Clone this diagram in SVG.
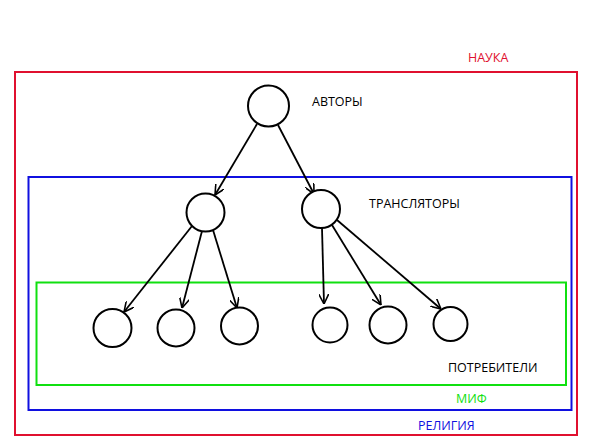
<svg xmlns="http://www.w3.org/2000/svg" width="591" height="444" viewBox="0 0 591 444">
<style>
.frame{fill:none;stroke-width:2}
.node{fill:#fff;stroke:#000;stroke-width:2}
.lbl{font-family:"Open Sans","Liberation Sans",sans-serif;font-size:12.5px}
.edge{stroke:#000;stroke-width:1.8;fill:none;marker-end:url(#arr)}
</style>
<defs>
<marker id="arr" viewBox="0 0 10 10" refX="10" refY="5" markerWidth="5.5" markerHeight="5.5" orient="auto" markerUnits="strokeWidth">
<path d="M0,0 L10,5 L0,10" fill="none" stroke="#000" stroke-width="1.6"/>
</marker>
</defs>
<rect width="591" height="444" fill="#fff"/>
<g id="nauka">
<rect class="frame" x="15" y="72" width="562" height="363" stroke="#e0102f"/>
<text class="lbl" x="468" y="62" fill="#e0102f">НАУКА</text>
</g>
<g id="religiya">
<rect class="frame" x="28.5" y="177" width="543" height="233" stroke="#1010e0"/>
<text class="lbl" x="418" y="430" fill="#1010e0">РЕЛИГИЯ</text>
</g>
<g id="mif">
<rect class="frame" x="36.5" y="282.5" width="529.5" height="102.5" stroke="#10e010"/>
<text class="lbl" x="456" y="403" fill="#10e010">МИФ</text>
</g>
<g id="connectors">
<line class="edge" x1="257" y1="124" x2="215" y2="195"/>
<line class="edge" x1="278" y1="125" x2="314" y2="194"/>
<line class="edge" x1="192" y1="226" x2="124" y2="312"/>
<line class="edge" x1="202" y1="231" x2="182" y2="308"/>
<line class="edge" x1="213" y1="230" x2="237" y2="308"/>
<line class="edge" x1="322" y1="228" x2="324" y2="304"/>
<line class="edge" x1="332" y1="225" x2="381" y2="305"/>
<line class="edge" x1="337" y1="220" x2="441" y2="309"/>
</g>
<g id="avtory">
<circle class="node" cx="268.5" cy="106" r="20.5"/>
<text class="lbl" x="312" y="106">АВТОРЫ</text>
</g>
<g id="translyator1"><circle class="node" cx="205.5" cy="212.5" r="19"/></g>
<g id="translyator2">
<circle class="node" cx="321" cy="209" r="19"/>
<text class="lbl" x="369" y="208">ТРАНСЛЯТОРЫ</text>
</g>
<g id="potr1"><circle class="node" cx="112.5" cy="328" r="19"/></g>
<g id="potr2"><circle class="node" cx="176" cy="328" r="18.5"/></g>
<g id="potr3"><circle class="node" cx="239.5" cy="326" r="18.5"/></g>
<g id="potr4"><circle class="node" cx="330" cy="325" r="17.5"/></g>
<g id="potr5"><circle class="node" cx="388" cy="325" r="18.5"/></g>
<g id="potr6"><circle class="node" cx="450.5" cy="324" r="17"/></g>
<g id="potrebiteli"><text class="lbl" x="448" y="372">ПОТРЕБИТЕЛИ</text></g>
</svg>
